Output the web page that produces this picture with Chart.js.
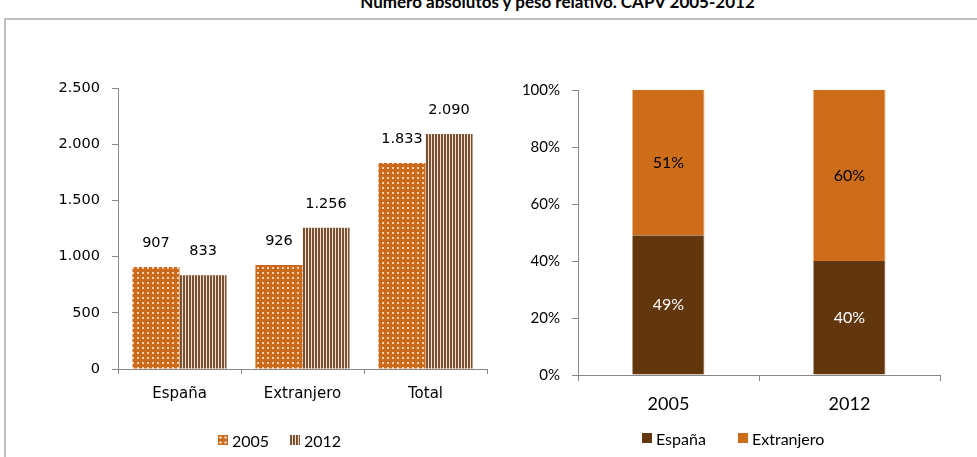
<!DOCTYPE html>
<html>
<head>
<meta charset="utf-8">
<script src="https://cdn.jsdelivr.net/npm/chart.js@4/dist/chart.umd.min.js"></script>
<style>
  body { margin: 0; width: 977px; height: 457px; overflow: hidden; background: #fff; position: relative; }
  #frame { position: absolute; left: 4px; top: 18px; width: 990px; height: 480px; border: 2px solid #c0c0c0; }
  #title { position: absolute; left: 69px; top: -9px; width: 977px; text-align: center;
           font: bold 17px Lato, sans-serif; color: #000; white-space: nowrap; }
  canvas { position: absolute; top: 0; }
  #left { left: 0; }
  #right { left: 490px; }
  .item { position: absolute; display: flex; align-items: center; font: 16px Lato, sans-serif; color: #000; height: 16px; }
  .sw { width: 10px; height: 10px; margin-right: 4px; }
  .dots { background: radial-gradient(circle, #f4d0ae 0 1px, transparent 1.5px) 0 0 / 5px 5px, #cc6a1c; }
  .stripes { background: repeating-linear-gradient(90deg, #7a5233 0 2px, #efe2d5 2px 3px); }
</style>
</head>
<body>
<div id="frame"></div>
<div id="title">Número absolutos y peso relativo. CAPV 2005-2012</div>
<canvas id="left" width="490" height="457"></canvas>
<canvas id="right" width="487" height="457"></canvas>

<div class="item" style="left:218px;top:432px"><span class="sw dots"></span>2005</div>
<div class="item" style="left:290px;top:432px"><span class="sw stripes"></span>2012</div>
<div class="item" style="left:642px;top:430px"><span class="sw" style="background:#63370e"></span>España</div>
<div class="item" style="left:738px;top:430px"><span class="sw" style="background:#cd6d1a"></span>Extranjero</div>

<script>
// absolute numbers
const places = ['España', 'Extranjero', 'Total'];
const counts2005 = [907, 926, 1833];
const counts2012 = [833, 1256, 2090];
const countTicks = [0, 500, 1000, 1500, 2000, 2500];

// relative weight (%)
const years = ['2005', '2012'];
const shareSpain = [49, 40];
const shareForeign = [51, 60];
const shareTicks = [0, 20, 40, 60, 80, 100];

const axisGrey = '#868686';

function thousands(v) {
  return String(v).replace(/\B(?=(\d{3})+(?!\d))/g, '.');
}

function dotPattern() {
  const c = document.createElement('canvas');
  c.width = 5; c.height = 5;
  const g = c.getContext('2d');
  g.fillStyle = '#cc6a1c';
  g.fillRect(0, 0, 5, 5);
  g.fillStyle = '#f4d0ae';
  g.fillRect(2, 2, 2, 2);
  return g.createPattern(c, 'repeat');
}

function stripePattern() {
  const c = document.createElement('canvas');
  c.width = 3; c.height = 1;
  const g = c.getContext('2d');
  g.fillStyle = '#7a5233';
  g.fillRect(0, 0, 2, 1);
  g.fillStyle = '#efe2d5';
  g.fillRect(2, 0, 1, 1);
  return g.createPattern(c, 'repeat');
}

// writes each bar's value either above it or in the middle of the segment
function barLabels(font, colors, inside, format) {
  return {
    id: 'barLabels',
    afterDatasetsDraw(chart) {
      const ctx = chart.ctx;
      ctx.save();
      ctx.font = font;
      ctx.textAlign = 'center';
      ctx.textBaseline = 'middle';
      chart.data.datasets.forEach((ds, i) => {
        chart.getDatasetMeta(i).data.forEach((bar, j) => {
          const y = inside ? (bar.y + bar.base) / 2 : bar.y - 24;
          ctx.fillStyle = colors[i];
          ctx.fillText(format(ds.data[j]), bar.x, y);
        });
      });
      ctx.restore();
    }
  };
}

new Chart(document.getElementById('left'), {
  type: 'bar',
  data: {
    labels: places,
    datasets: [
      { label: '2005', data: counts2005, backgroundColor: dotPattern(), borderWidth: 0,
        categoryPercentage: 0.765, barPercentage: 1 },
      { label: '2012', data: counts2012, backgroundColor: stripePattern(), borderWidth: 0,
        categoryPercentage: 0.765, barPercentage: 1 }
    ]
  },
  options: {
    responsive: false,
    animation: false,
    devicePixelRatio: 1,
    layout: { padding: { top: 88, right: 3, left: 0, bottom: 0 } },
    plugins: { legend: { display: false }, tooltip: { enabled: false } },
    scales: {
      x: {
        grid: { drawOnChartArea: false, color: axisGrey, tickLength: 5 },
        border: { color: axisGrey },
        ticks: { font: { family: 'DejaVu Sans', size: 15 }, color: '#000', padding: 11 },
        afterFit: s => { s.height = 88; }
      },
      y: {
        min: 0, max: 2500,
        afterBuildTicks: s => { s.ticks = countTicks.map(v => ({ value: v })); },
        grid: { drawOnChartArea: false, color: axisGrey, tickLength: 6 },
        border: { color: axisGrey },
        ticks: { font: { family: 'DejaVu Sans', size: 14.5 }, color: '#000', padding: 12,
                 callback: v => thousands(v) },
        afterFit: s => { s.width = 118; }
      }
    }
  },
  plugins: [barLabels('14.5px "DejaVu Sans"', ['#000', '#000'], false, thousands)]
});

new Chart(document.getElementById('right'), {
  type: 'bar',
  data: {
    labels: years,
    datasets: [
      { label: 'España', data: shareSpain, backgroundColor: '#63370e',
        borderColor: '#d9d0c8', borderWidth: { right: 1 }, borderSkipped: false,
        categoryPercentage: 1, barPercentage: 0.4 },
      { label: 'Extranjero', data: shareForeign, backgroundColor: '#cd6d1a',
        borderColor: '#f2c9a3', borderWidth: { right: 1 }, borderSkipped: false,
        categoryPercentage: 1, barPercentage: 0.4 }
    ]
  },
  options: {
    responsive: false,
    animation: false,
    devicePixelRatio: 1,
    layout: { padding: { top: 90, right: 37, left: 0, bottom: 0 } },
    plugins: { legend: { display: false }, tooltip: { enabled: false } },
    scales: {
      x: {
        stacked: true,
        grid: { drawOnChartArea: false, color: axisGrey, tickLength: 6 },
        border: { color: axisGrey },
        ticks: { font: { family: 'Lato', size: 18 }, color: '#000', padding: 12 },
        afterFit: s => { s.height = 82; }
      },
      y: {
        stacked: true,
        min: 0, max: 100,
        afterBuildTicks: s => { s.ticks = shareTicks.map(v => ({ value: v })); },
        grid: { drawOnChartArea: false, color: axisGrey, tickLength: 6 },
        border: { color: axisGrey },
        ticks: { font: { family: 'Lato', size: 15 }, color: '#000', padding: 12,
                 callback: v => v + '%' },
        afterFit: s => { s.width = 88; }
      }
    }
  },
  plugins: [barLabels('16px Lato', ['#fff', '#000'], true, v => v + '%')]
});
</script>
</body>
</html>
